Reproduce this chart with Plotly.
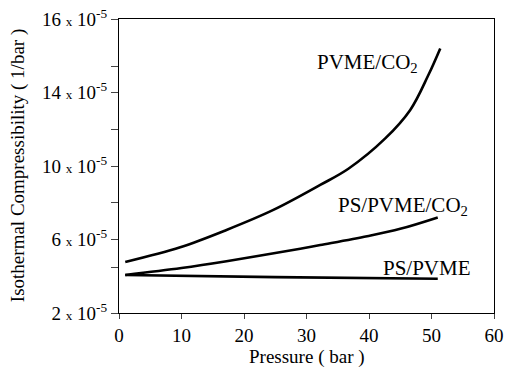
import plotly.graph_objects as go

pressure_pvme_co2 = [1, 9.8, 17.2, 24.7, 32.2, 36.7, 42.6, 46.6, 49.5, 51.4]
comp_pvme_co2 = [4.78, 5.58, 6.52, 7.61, 8.97, 9.85, 11.5, 13.05, 14.95, 16.4]

pressure_blend_co2 = [1, 10, 17.2, 29, 32.2, 39.7, 45, 51]
comp_blend_co2 = [4.07, 4.45, 4.82, 5.5, 5.7, 6.18, 6.58, 7.2]

pressure_blend = [1, 25, 51]
comp_blend = [4.07, 3.95, 3.86]

y_tick_vals = [2, 6, 10, 14, 18]
y_tick_nums = ["2", "6", "10", "14", "16"]
y_minor_vals = [4.5, 8, 12, 15.4]
x_tick_vals = [0, 10, 20, 30, 40, 50, 60]

FONT = "Liberation Serif, Times New Roman, serif"

fig = go.Figure()
for xs, ys in [(pressure_pvme_co2, comp_pvme_co2),
               (pressure_blend_co2, comp_blend_co2),
               (pressure_blend, comp_blend)]:
    fig.add_trace(go.Scatter(x=xs, y=ys, mode="lines",
                             line=dict(color="black", width=2.6, shape="spline", smoothing=1.0),
                             showlegend=False, hoverinfo="skip"))

ytext = [f"{n} <span style='font-size:13px'>x</span> 10<sup>-5</sup>" for n in y_tick_nums]

fig.update_layout(
    width=505, height=367,
    margin=dict(l=119, r=11, t=19, b=54, autoexpand=False),
    paper_bgcolor="white", plot_bgcolor="white",
    font=dict(family=FONT, color="black", size=19),
    xaxis=dict(range=[0, 60], tickvals=x_tick_vals, ticks="outside", ticklen=5, tickwidth=1,
               showline=True, linecolor="black", linewidth=1.3, mirror=True, showgrid=False, zeroline=False,
               automargin=False, tickfont=dict(size=19, family=FONT)),
    yaxis=dict(range=[2, 18], tickvals=y_tick_vals, ticktext=ytext, ticks="outside", ticklen=7, tickwidth=1,
               showline=True, linecolor="black", linewidth=1.3, mirror=True, showgrid=False, zeroline=False,
               automargin=False, tickfont=dict(size=19, family=FONT),
               minor=dict(tickvals=y_minor_vals, ticks="outside", ticklen=7, tickwidth=1, showgrid=False)),
)

fig.add_annotation(xref="paper", yref="paper", x=0.5, y=-0.105, yanchor="top",
                   text="Pressure ( bar )", showarrow=False, font=dict(size=19, family=FONT))
fig.add_annotation(xref="paper", yref="paper", x=-0.269, y=0.5, xanchor="center", textangle=-90,
                   text="Isothermal Compressibility ( 1/bar )", showarrow=False, font=dict(size=19, family=FONT))

fig.add_annotation(x=48.2, y=15.6, text="PVME/CO<sub>2</sub>", showarrow=False, xanchor="right",
                   yanchor="middle", font=dict(size=21, family=FONT))
fig.add_annotation(x=56.2, y=7.82, text="PS/PVME/CO<sub>2</sub>", showarrow=False, xanchor="right",
                   yanchor="middle", font=dict(size=21, family=FONT))
fig.add_annotation(x=56.6, y=4.45, text="PS/PVME", showarrow=False, xanchor="right",
                   yanchor="middle", font=dict(size=21, family=FONT))

fig.write_html("out.html", config={"displayModeBar": False},
               post_script="document.body.style.margin='0';")
